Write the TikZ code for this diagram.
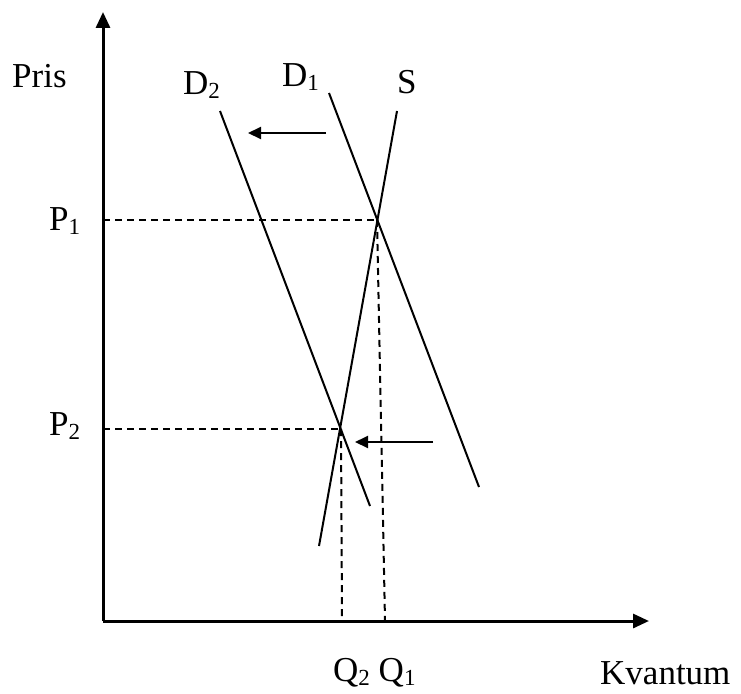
\documentclass[tikz,border=0pt]{standalone}
\usepackage{fontspec}
\setmainfont{Liberation Serif}
\usetikzlibrary{arrows.meta}
\newcommand\mysub[1]{\raisebox{-4pt}{\fontsize{23}{23}\selectfont #1}}
\begin{document}
\begin{tikzpicture}[x=1pt,y=-1pt,
  axis/.style={line width=3pt,-{Triangle[length=16pt,width=14pt]}},
  curve/.style={line width=2pt},
  guide/.style={line width=2pt,dash pattern=on 7pt off 5pt},
  shiftarrow/.style={line width=2pt,-{Triangle[length=13pt,width=12pt]}},
  lbl/.style={inner sep=0pt,anchor=base west,font=\fontsize{35}{40}\selectfont}]
\useasboundingbox (0,0) rectangle (741,693);
% coordinates
\coordinate (O) at (103,621);
\coordinate (Ytop) at (103,12);
\coordinate (Xend) at (649,621);
\coordinate (D2a) at (220,111);
\coordinate (D2b) at (370,506);
\coordinate (D1a) at (329,93);
\coordinate (D1b) at (479,487);
\coordinate (Sa) at (397,111);
\coordinate (Sb) at (319,546);
\coordinate (E1) at (377,220);
\coordinate (E2) at (341,429);
\coordinate (P1ax) at (103,220);
\coordinate (P2ax) at (103,429);
\coordinate (Q1ax) at (385,621);
\coordinate (Q2ax) at (342,621);
\coordinate (A1s) at (326,133);
\coordinate (A1e) at (248,133);
\coordinate (A2s) at (433,442);
\coordinate (A2e) at (355,442);
% axes
\draw[axis] (O) -- (Ytop);
\draw[axis] (O) -- (Xend);
% curves
\draw[curve] (D2a) -- (D2b);
\draw[curve] (D1a) -- (D1b);
\draw[curve] (Sa) -- (Sb);
% guides
\draw[guide] (P1ax) -- (E1);
\draw[guide] (P2ax) -- (E2);
\draw[guide] (E1) -- (Q1ax);
\draw[guide] (E2) -- (Q2ax);
% shift arrows
\draw[shiftarrow] (A1s) -- (A1e);
\draw[shiftarrow] (A2s) -- (A2e);
% labels
\node[lbl] (pris) at (12,87) {Pris};
\node[lbl] (d2) at (183,94) {D\mysub{2}};
\node[lbl] (d1) at (282,86) {D\mysub{1}};
\node[lbl] (s) at (397,93) {S};
\node[lbl] (p1) at (49,230) {P\mysub{1}};
\node[lbl] (p2) at (49,435) {P\mysub{2}};
\node[lbl] (q) at (333,681) {Q\mysub{2} Q\mysub{1}};
\node[lbl] (kv) at (600,684) {Kvantum};
\end{tikzpicture}
\end{document}
